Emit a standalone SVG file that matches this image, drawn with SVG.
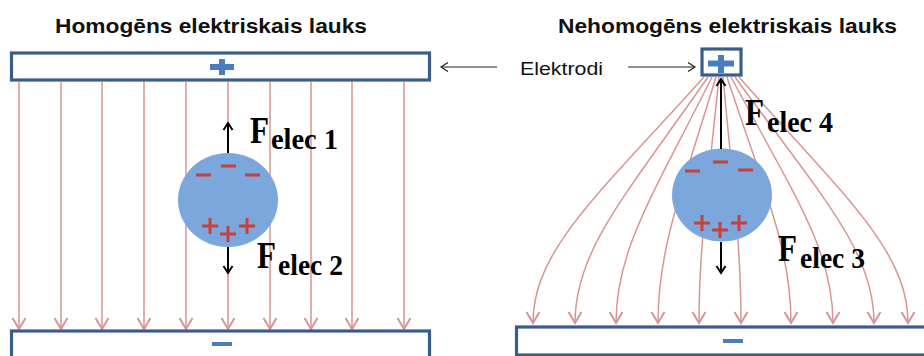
<svg xmlns="http://www.w3.org/2000/svg" width="924" height="356" viewBox="0 0 924 356">
  <defs>
    <style>
      .title{font-family:"Liberation Sans",Arial,sans-serif;font-weight:bold;font-size:21px;fill:#111}
      .lbl{font-family:"Liberation Sans",Arial,sans-serif;font-size:19px;fill:#111}
      .plate{fill:#fff;stroke:#3a5d88;stroke-width:3.2}
      .sign{fill:#4a7ebb}
      .field{fill:none;stroke:#d99594;stroke-width:1.5;marker-end:url(#fieldHead)}
      .ball{fill:#7ba7dc}
      .q{stroke:#c9403a;stroke-width:3;fill:none}
      .force{stroke:#000;stroke-width:2;fill:none;marker-end:url(#forceHead)}
      .pointer{stroke:#222;stroke-width:1.2;fill:none;marker-end:url(#pointerHead)}
      .F{font-family:"Liberation Serif","Times New Roman",serif;font-weight:bold;fill:#000}
    </style>
    <marker id="fieldHead" markerUnits="userSpaceOnUse" viewBox="-13 -9 15 18" markerWidth="15" markerHeight="18" refX="0" refY="0" orient="auto">
      <path d="M-11,-6.5 L0,0 L-11,6.5" fill="none" stroke="#d99594" stroke-width="2"/>
    </marker>
    <marker id="forceHead" markerUnits="userSpaceOnUse" viewBox="-9 -7 11 14" markerWidth="11" markerHeight="14" refX="0" refY="0" orient="auto">
      <path d="M-7,-4.5 L0,0 L-7,4.5" fill="none" stroke="#000" stroke-width="2"/>
    </marker>
    <marker id="pointerHead" markerUnits="userSpaceOnUse" viewBox="-9 -6 11 12" markerWidth="11" markerHeight="12" refX="0" refY="0" orient="auto">
      <path d="M-7,-4.5 L0,0 L-7,4.5" fill="none" stroke="#222" stroke-width="1.2"/>
    </marker>
  </defs>

  <rect width="924" height="356" fill="#fff"/>

  <!-- titles -->
  <text class="title" x="55" y="33" textLength="312" lengthAdjust="spacingAndGlyphs">Homogēns elektriskais lauks</text>
  <text class="title" x="558" y="33" textLength="339" lengthAdjust="spacingAndGlyphs">Nehomogēns elektriskais lauks</text>

  <!-- field lines and pointers -->
  <g id="connectors">
    <g id="uniform-field">
      <path class="field" d="M19,81.5 V329"/>
      <path class="field" d="M61,81.5 V329"/>
      <path class="field" d="M102,81.5 V329"/>
      <path class="field" d="M144,81.5 V329"/>
      <path class="field" d="M186,81.5 V329"/>
      <path class="field" d="M228,81.5 V329"/>
      <path class="field" d="M270,81.5 V329"/>
      <path class="field" d="M311,81.5 V329"/>
      <path class="field" d="M352,81.5 V329"/>
      <path class="field" d="M404,81.5 V329"/>
    </g>
    <g id="radial-field">
      <path class="field" d="M704,77 C598,195 533,250 533,323"/>
      <path class="field" d="M708,77 C626,195 575,250 575,323"/>
      <path class="field" d="M712,77 C653,195 616,250 616,323"/>
      <path class="field" d="M716,77 C680,195 658,250 658,323"/>
      <path class="field" d="M719,77 C707,195 699,250 699,323"/>
      <path class="field" d="M723,77 C734,195 741,250 741,323"/>
      <path class="field" d="M727,77 C766,195 791,250 791,323"/>
      <path class="field" d="M731,77 C794,195 833,250 833,323"/>
      <path class="field" d="M735,77 C820,195 874,250 874,323"/>
      <path class="field" d="M739,77 C843,195 908,250 908,323"/>
    </g>
    <path class="pointer" d="M497,67 H441"/>
    <path class="pointer" d="M628,67 H695"/>
  </g>

  <!-- electrodes -->
  <g id="plate-top-left">
    <rect class="plate" x="11.5" y="53" width="418" height="27"/>
    <rect class="sign" x="210" y="64" width="24" height="6"/>
    <rect class="sign" x="219" y="59" width="6" height="16"/>
  </g>
  <g id="plate-bottom-left">
    <rect class="plate" x="11.5" y="331" width="418" height="32"/>
    <rect class="sign" x="212" y="342" width="20" height="4"/>
  </g>
  <g id="electrode-point">
    <rect class="plate" x="702" y="49" width="39" height="26"/>
    <rect class="sign" x="708" y="60.5" width="26" height="6"/>
    <rect class="sign" x="718" y="55" width="6" height="18"/>
  </g>
  <g id="plate-bottom-right">
    <rect class="plate" x="516.5" y="327" width="420" height="28"/>
    <rect class="sign" x="723" y="339" width="20" height="4"/>
  </g>

  <g id="label-electrodes">
    <text class="lbl" x="520" y="75" textLength="83" lengthAdjust="spacingAndGlyphs">Elektrodi</text>
  </g>

  <!-- charged drop, uniform field -->
  <g id="drop-left">
    <ellipse class="ball" cx="228" cy="200" rx="50" ry="47"/>
    <path class="q" d="M196,175 h15 M221,166 h15 M245,175 h15"/>
    <path class="q" d="M202,226 h16 M210,218 v16 M220,234 h16 M228,226 v16 M239,226 h16 M247,218 v16"/>
    <path class="force" d="M228,153 V123"/>
    <path class="force" d="M228,247 V273"/>
    <text class="F" x="250" y="143" font-size="37" textLength="19" lengthAdjust="spacingAndGlyphs">F</text>
    <text class="F" x="271" y="149" font-size="29" textLength="67" lengthAdjust="spacingAndGlyphs">elec 1</text>
    <text class="F" x="257" y="268" font-size="37" textLength="19" lengthAdjust="spacingAndGlyphs">F</text>
    <text class="F" x="278" y="275" font-size="29" textLength="65" lengthAdjust="spacingAndGlyphs">elec 2</text>
  </g>

  <!-- charged drop, non-uniform field -->
  <g id="drop-right">
    <ellipse class="ball" cx="722" cy="195" rx="50" ry="46.5"/>
    <path class="q" d="M685,171 h15 M713,162 h15 M738,170 h15"/>
    <path class="q" d="M694,223 h16 M702,215 v16 M712,230 h16 M720,222 v16 M731,223 h16 M739,215 v16"/>
    <path class="force" d="M721,149 V79"/>
    <path class="force" d="M721,242 V273"/>
    <text class="F" x="745" y="125" font-size="37" textLength="19" lengthAdjust="spacingAndGlyphs">F</text>
    <text class="F" x="767" y="132" font-size="29" textLength="66" lengthAdjust="spacingAndGlyphs">elec 4</text>
    <text class="F" x="778" y="261" font-size="37" textLength="19" lengthAdjust="spacingAndGlyphs">F</text>
    <text class="F" x="800" y="268" font-size="29" textLength="65" lengthAdjust="spacingAndGlyphs">elec 3</text>
  </g>
</svg>
